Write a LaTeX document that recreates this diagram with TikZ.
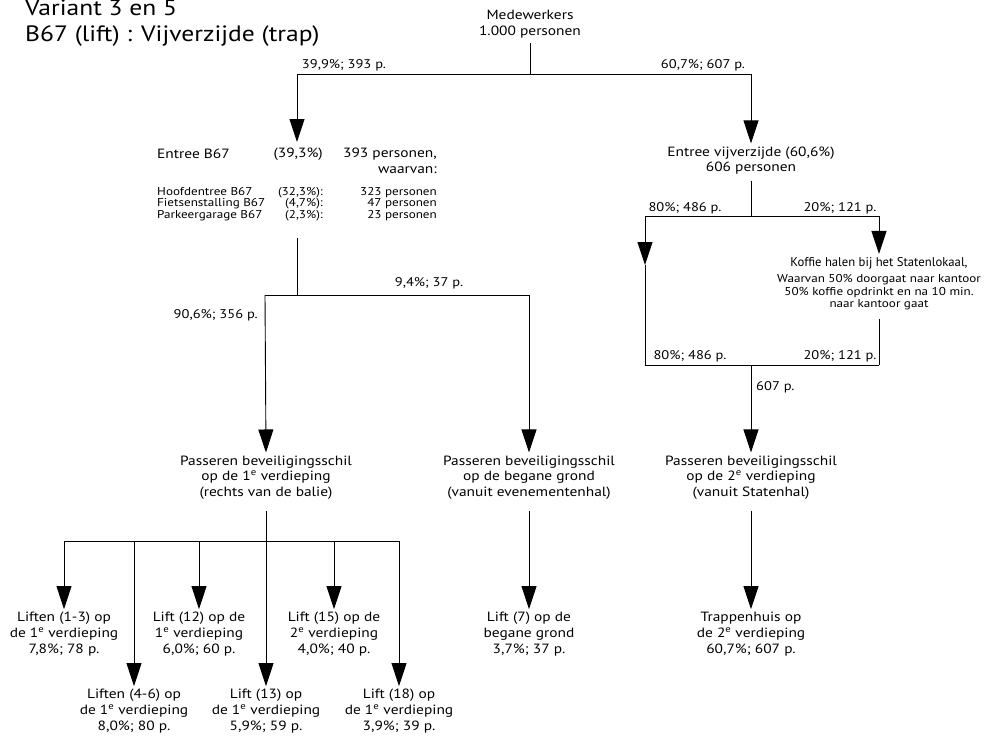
\documentclass[tikz,border=0pt]{standalone}
\usepackage{fontspec}
\setmainfont{PT Sans}[FakeStretch=1.15]
\newfontfamily\plainfont{PT Sans}
\usetikzlibrary{arrows.meta}
\begin{document}
\begin{tikzpicture}[x=1pt,y=-1pt,
  ln/.style={line width=0.9pt, draw=black},
  arr/.style={ln, -{Triangle[length=23pt,width=15pt]}},
  txt/.style={inner xsep=0pt, inner ysep=3pt, align=center, font=\fontsize{13.4}{15.6}\selectfont},
  smt/.style={inner xsep=0pt, inner ysep=3pt, font=\fontsize{11.4}{11.6}\selectfont},
  lab/.style={inner sep=0pt, font=\fontsize{12.6}{15}\selectfont},
  ttl/.style={inner sep=0pt, anchor=base west, font=\fontsize{22.2}{26}\selectfont}]
\useasboundingbox (0,0) rectangle (985,736);

% title
\node[ttl] (t1) at (25,15) {Variant 3 en 5};
\node[ttl] (t2) at (25,41) {B67 (lift) : Vijverzijde (trap)};

% top
\node[txt] (med) at (530,24) {Medewerkers\\1.000 personen};
\coordinate (j0) at (530,74);
\coordinate (j0l) at (297,74);
\coordinate (j0r) at (751,74);
\coordinate (a1) at (297,142);
\draw[ln, shorten <=2pt] (med.south) -- (j0);
\draw[ln] (j0l) -- (j0r);
\node[lab] (l01) at (344,65) {39,9\%; 393 p.};
\node[lab] (l02) at (703,65) {60,7\%; 607 p.};
\draw[arr] (j0l) -- (a1);

% Entree B67 block
\node[txt, anchor=west] (e1) at (157,154) {Entree B67};
\node[txt, anchor=east] (e2) at (323,154) {(39,3\%)};
\node[txt, anchor=east, align=right] (e3) at (437,161) {393 personen,\\waarvan:};
\node[smt, anchor=west, align=left] (d1) at (157,204) {Hoofdentree B67\\Fietsenstalling B67\\Parkeergarage B67};
\node[smt, anchor=east, align=right] (d2) at (323,204) {(32,3\%):\\(4,7\%):\\(2,3\%):};
\node[smt, anchor=east, align=right] (d3) at (437,204) {323 personen\\47 personen\\23 personen};

\coordinate (b1) at (297,238);
\coordinate (j1) at (297,295);
\coordinate (j1l) at (265,295);
\coordinate (j1r) at (529,295);
\draw[ln] (b1) -- (j1);
\draw[ln] (j1l) -- (j1r);
\node[lab] (l11) at (429,283) {9,4\%; 37 p.};
\node[lab, anchor=east] (l12) at (258,315) {90,6\%; 356 p.};

% right upper
\node[txt] (vij) at (751,160.5) {Entree vijverzijde (60,6\%)\\606 personen};
\draw[arr] (j0r) -- (vij.north);
\coordinate (j3) at (751,216);
\coordinate (j3l) at (645,216);
\coordinate (j3r) at (879,216);
\coordinate (a2) at (645,265);
\coordinate (j4l) at (645,365);
\coordinate (j4r) at (879,365);
\coordinate (j4) at (751,365);
\draw[ln, shorten <=3pt] (vij.south) -- (j3);
\draw[ln] (j3l) -- (j3r);
\node[lab] (l31) at (685,208) {80\%; 486 p.};
\node[lab] (l32) at (840,208) {20\%; 121 p.};
\node[inner xsep=0pt, inner ysep=3pt, font=\plainfont\fontsize{12.7}{15}\selectfont] (kof) at (879,263) {Koffie halen bij het Statenlokaal,};
\node[inner xsep=0pt, inner ysep=3pt, align=center, font=\fontsize{11.4}{12.5}\selectfont] (kofsub) at (879,292.5) {Waarvan 50\% doorgaat naar kantoor\\50\% koffie opdrinkt en na 10 min.\\naar kantoor gaat};
\draw[arr] (j3r) -- (kof.north);
\draw[arr] (j3l) -- (a2);
\draw[ln] (a2) -- (j4l);
\draw[ln, shorten <=6pt] (kofsub.south) -- (j4r);
\draw[ln] (j4l) -- (j4r);
\node[lab] (l41) at (690,356) {80\%; 486 p.};
\node[lab] (l42) at (840,356) {20\%; 121 p.};
\node[lab, anchor=west] (l43) at (756,387) {607 p.};

% second level
\node[txt] (p1) at (266,477.5) {Passeren beveiligingsschil\\op de 1\textsuperscript{e} verdieping\\(rechts van de balie)};
\node[txt] (p2) at (529,477.5) {Passeren beveiligingsschil\\op de begane grond\\(vanuit evenementenhal)};
\node[txt] (p3) at (751,477.5) {Passeren beveiligingsschil\\op de 2\textsuperscript{e} verdieping\\(vanuit Statenhal)};
\draw[arr] (j1l) -- (p1.north);
\draw[arr] (j1r) -- (p2.north);
\draw[arr] (j4) -- (p3.north);

% bottom middle & right
\node[txt] (l7) at (529,634) {Lift (7) op de\\begane grond\\3,7\%; 37 p.};
\node[txt] (tr) at (751,634) {Trappenhuis op\\de 2\textsuperscript{e} verdieping\\60,7\%; 607 p.};
\draw[arr, shorten <=8pt] (p2.south) -- (l7.north);
\draw[arr, shorten <=8pt] (p3.south) -- (tr.north);

% bottom left
\coordinate (j2) at (266,541);
\coordinate (c1) at (64,541);
\coordinate (c2) at (134,541);
\coordinate (c3) at (199,541);
\coordinate (c5) at (334,541);
\coordinate (c6) at (399,541);
\draw[ln, shorten <=8pt] (p1.south) -- (j2);
\draw[ln] (c1) -- (c6);
\node[txt] (q1) at (64,634) {Liften (1-3) op\\de 1\textsuperscript{e} verdieping\\7,8\%; 78 p.};
\node[txt] (q3) at (199,634) {Lift (12) op de\\1\textsuperscript{e} verdieping\\6,0\%; 60 p.};
\node[txt] (q5) at (334,634) {Lift (15) op de\\2\textsuperscript{e} verdieping\\4,0\%; 40 p.};
\node[txt] (q2) at (134,711) {Liften (4-6) op\\de 1\textsuperscript{e} verdieping\\8,0\%; 80 p.};
\node[txt] (q4) at (266,711) {Lift (13) op\\de 1\textsuperscript{e} verdieping\\5,9\%; 59 p.};
\node[txt] (q6) at (399,711) {Lift (18) op\\de 1\textsuperscript{e} verdieping\\3,9\%; 39 p.};
\draw[arr] (c1) -- (q1.north);
\draw[arr] (c2) -- (q2.north);
\draw[arr] (c3) -- (q3.north);
\draw[arr] (j2) -- (q4.north);
\draw[arr] (c5) -- (q5.north);
\draw[arr] (c6) -- (q6.north);
\end{tikzpicture}
\end{document}
